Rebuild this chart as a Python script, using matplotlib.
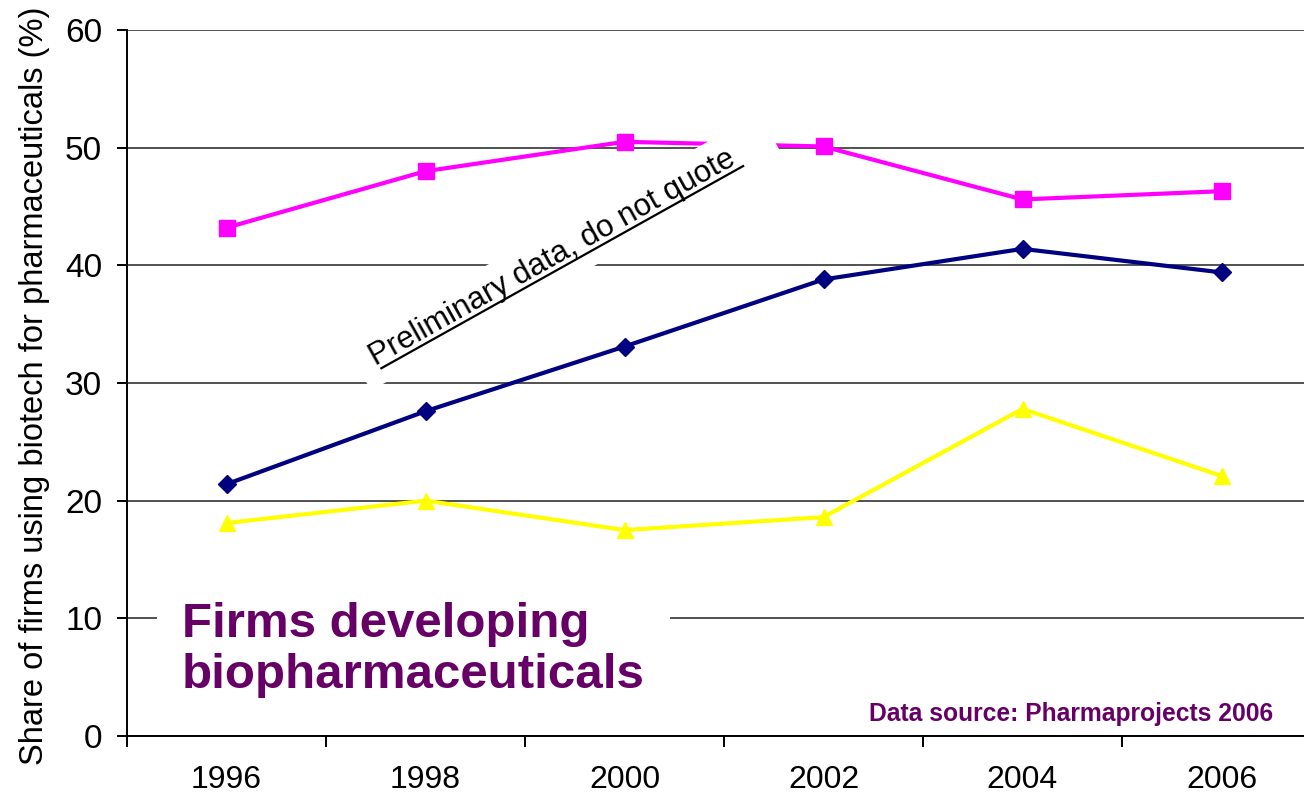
import matplotlib
matplotlib.use('Agg')
import matplotlib.pyplot as plt
from matplotlib.lines import Line2D
from matplotlib.patches import Polygon
from matplotlib.transforms import IdentityTransform
import numpy as np

# ---- data ----
years = ['1996', '1998', '2000', '2002', '2004', '2006']
magenta_vals = [43.2, 48.0, 50.5, 50.1, 45.6, 46.3]
navy_vals = [21.4, 27.6, 33.1, 38.8, 41.4, 39.4]
yellow_vals = [18.1, 20.0, 17.5, 18.6, 27.8, 22.1]
yticks = [0, 10, 20, 30, 40, 50, 60]

ylabel = 'Share of firms using biotech for pharmaceuticals (%)'
title_text = 'Firms developing\nbiopharmaceuticals'
note_text = 'Preliminary data, do not quote'
source_text = 'Data source: Pharmaprojects 2006'

plt.rcParams['font.family'] = ['Liberation Sans', 'DejaVu Sans']

W, H = 1304, 793
fig = plt.figure(figsize=(W / 100, H / 100), dpi=100)
ax = fig.add_axes([127 / W, 1 - 736 / H, 1 - 127 / W, (736 - 30) / H])

x = np.arange(len(years))
ax.yaxis.grid(True, color='#222222', lw=1.1)
ax.set_axisbelow(True)
for s in ['top', 'right']:
    ax.spines[s].set_visible(False)
ax.spines['left'].set_linewidth(1.4)
ax.spines['bottom'].set_linewidth(1.4)

ax.plot(x, magenta_vals, color='#FF00FF', marker='s', ms=12, lw=3, zorder=3)
ax.plot(x, navy_vals, color='#000080', marker='D', ms=9, lw=3, zorder=3)
ax.plot(x, yellow_vals, color='#FFFF00', marker='^', ms=12, lw=3, zorder=3)

ax.set_xticks(x)
ax.set_xticklabels(years)
ax.set_xticks(np.arange(-0.5, len(years) - 1), minor=True)
ax.tick_params(axis='x', which='major', length=0, pad=21, labelsize=23)
ax.tick_params(axis='x', which='minor', length=8, width=1.4)
ax.set_yticks(yticks)
ax.tick_params(axis='y', length=7, width=1.4, pad=11, labelsize=24)
ax.set_xlim(-0.5, -0.5 + (W - 127) / 199)
ax.set_ylim(0, 60)

fig.text(35 / W, 1 - 386 / H, ylabel, rotation=90, ha='center', va='center', fontsize=23.5)

# big label (baseline of last line)
fig.text(182 / W, 1 - 688 / H, title_text, fontsize=35.5, fontweight='bold', color='#660066',
         ha='left', va='baseline', linespacing=1.17, zorder=5,
         bbox=dict(boxstyle='square,pad=0.5', fc='white', ec='none'))

# source
fig.text(1273 / W, 1 - 721 / H, source_text, fontsize=17.7, fontweight='bold', color='#660066',
         ha='right', va='baseline', zorder=5)

# rotated note with white box and underline (display pixel coords)
ang = 29.2
fs_note = 22.3
ax0, ay0 = 371, H - 362
th = np.deg2rad(ang)
u = np.array([np.cos(th), np.sin(th)])
n = np.array([-np.sin(th), np.cos(th)])
A = np.array([ax0, ay0], dtype=float)


def pt(s, t):
    return A + s * u + t * n


box = Polygon([pt(-14, -25), pt(460, -25), pt(460, 28), pt(-14, 28)], closed=True,
              transform=IdentityTransform(), fc='white', ec='none', zorder=5.5)
fig.add_artist(box)
T = pt(2, -6)
fig.text(T[0] / W, T[1] / H, note_text, rotation=ang, rotation_mode='anchor', ha='left',
         va='baseline', fontsize=fs_note, zorder=6)
renderer = fig.canvas.get_renderer()
tmp = fig.text(0, 0, note_text, fontsize=fs_note)
w = tmp.get_window_extent(renderer).width
tmp.remove()
p0, p1 = pt(6, -10.5), pt(w + 6, -10.5)
fig.add_artist(Line2D([p0[0], p1[0]], [p0[1], p1[1]], transform=IdentityTransform(),
                      color='black', lw=1.6, zorder=7))

fig.savefig('out.png', dpi=100)
